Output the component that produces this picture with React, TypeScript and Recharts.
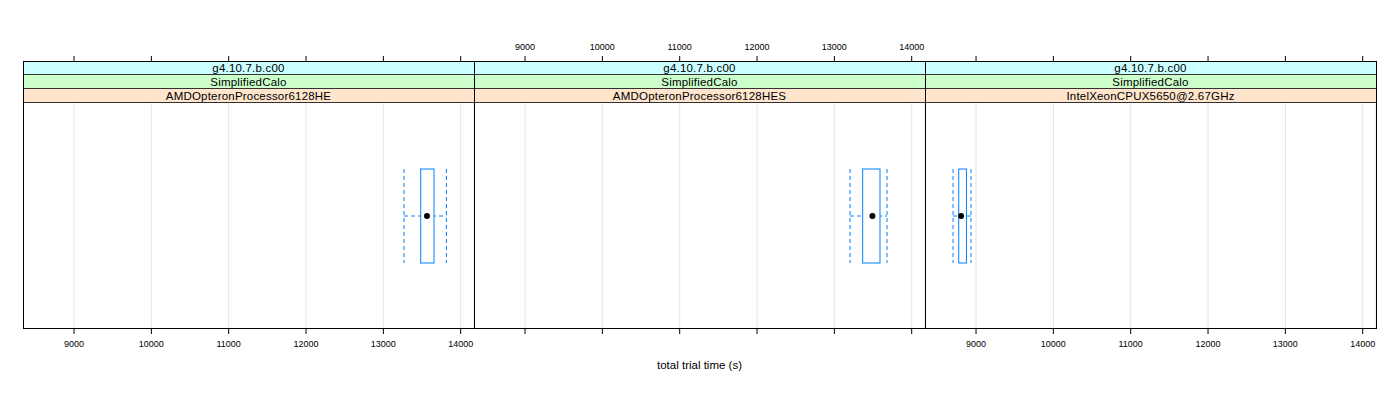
import React from "react";
import {
  Bar,
  CartesianGrid,
  ComposedChart,
  ReferenceDot,
  XAxis,
  YAxis,
} from "recharts";

// one panel per CPU, same geant4 version / test in every strip
const cpuNames = [
  "AMDOpteronProcessor6128HE",
  "AMDOpteronProcessor6128HES",
  "IntelXeonCPUX5650@2.67GHz",
];
const versionLabel = "g4.10.7.b.c00";
const testLabel = "SimplifiedCalo";

// five-number summaries of total trial time (s)
const whiskerLow = [13267, 13202, 8703];
const lowerQuartile = [13483, 13366, 8776];
const medianTime = [13564, 13492, 8806];
const upperQuartile = [13655, 13590, 8876];
const whiskerHigh = [13815, 13681, 8935];

const timeTicks = [9000, 10000, 11000, 12000, 13000, 14000];
const timeDomain = [8340, 14172];

const FONT = '"Liberation Sans", Arial, Helvetica, sans-serif';
const BOX_BLUE = "#0080ff";

const PANEL_LEFT = 23;
const PANEL_W = 451;
const PLOT_TOP = 61;
const PLOT_H = 268;
const STRIP_H = 14;
const AXIS_H = 30;
const STRIP_COLORS = ["#ccffff", "#ccffcc", "#ffe5cc"];

function WhiskerShape(props: any) {
  const { x, y, width, height } = props;
  const mid = y + height / 2;
  return (
    <g stroke={BOX_BLUE} strokeWidth={1} strokeDasharray="4 3" fill="none">
      <line x1={x} x2={x + width} y1={mid} y2={mid} />
      <line x1={x} x2={x} y1={y} y2={y + height} />
      <line x1={x + width} x2={x + width} y1={y} y2={y + height} />
    </g>
  );
}

function BoxShape(props: any) {
  const { x, y, width, height } = props;
  return (
    <rect
      x={x}
      y={y}
      width={width}
      height={height}
      fill="#ffffff"
      stroke={BOX_BLUE}
      strokeWidth={1}
    />
  );
}

function makeTick(show: boolean) {
  return (props: any) => {
    if (!show) return <g />;
    const { x, y, payload, textAnchor, verticalAnchor } = props;
    const dy = verticalAnchor === "end" ? "-0.1em" : "0.71em";
    return (
      <text
        x={x}
        y={y}
        dy={dy}
        textAnchor={textAnchor}
        fontSize={9}
        fontFamily={FONT}
        fill="#000"
      >
        {payload.value}
      </text>
    );
  };
}

function Panel({ index }: { index: number }) {
  const row = {
    name: cpuNames[index],
    whisker: [whiskerLow[index], whiskerHigh[index]],
    box: [lowerQuartile[index], upperQuartile[index]],
  };
  // lattice alternates the labelled side: bottom, top, bottom
  const labelBottom = index !== 1;
  return (
    <div
      style={{
        position: "absolute",
        left: PANEL_LEFT + index * PANEL_W,
        top: PLOT_TOP - AXIS_H,
      }}
    >
      <ComposedChart
        layout="vertical"
        width={PANEL_W}
        height={PLOT_H + 2 * AXIS_H}
        data={[row]}
        margin={{ top: 0, right: 0, bottom: 0, left: 0 }}
        style={{ overflow: "visible" }}
      >
        <CartesianGrid
          xAxisId="bottom"
          yAxisId="w"
          horizontal={false}
          stroke="#e6e6e6"
        />
        <XAxis
          xAxisId="bottom"
          type="number"
          orientation="bottom"
          domain={timeDomain}
          ticks={timeTicks}
          allowDataOverflow
          interval={0}
          height={AXIS_H}
          axisLine={false}
          tickSize={5}
          tickMargin={7}
          tickLine={{ stroke: "#000" }}
          tick={makeTick(labelBottom)}
        />
        <XAxis
          xAxisId="top"
          type="number"
          orientation="top"
          domain={timeDomain}
          ticks={timeTicks}
          allowDataOverflow
          interval={0}
          height={AXIS_H}
          axisLine={false}
          tickSize={5}
          tickMargin={5}
          tickLine={{ stroke: "#000" }}
          tick={makeTick(!labelBottom)}
        />
        <YAxis
          yAxisId="w"
          type="category"
          dataKey="name"
          hide
          padding={{ top: 3 * STRIP_H, bottom: 0 }}
        />
        <YAxis
          yAxisId="b"
          type="category"
          dataKey="name"
          hide
          padding={{ top: 3 * STRIP_H, bottom: 0 }}
        />
        <Bar
          xAxisId="bottom"
          yAxisId="w"
          dataKey="whisker"
          barSize={94}
          shape={WhiskerShape}
          isAnimationActive={false}
        />
        <Bar
          xAxisId="bottom"
          yAxisId="b"
          dataKey="box"
          barSize={94}
          shape={BoxShape}
          isAnimationActive={false}
        />
        <ReferenceDot
          xAxisId="bottom"
          yAxisId="b"
          x={medianTime[index]}
          y={cpuNames[index]}
          r={3}
          fill="#000"
          stroke="none"
        />
      </ComposedChart>
    </div>
  );
}

function Strips({ index }: { index: number }) {
  const labels = [versionLabel, testLabel, cpuNames[index]];
  return (
    <>
      {labels.map((label, k) => (
        <div
          key={k}
          style={{
            position: "absolute",
            left: PANEL_LEFT + index * PANEL_W,
            top: PLOT_TOP + k * STRIP_H,
            width: PANEL_W,
            height: STRIP_H,
            boxSizing: "border-box",
            background: STRIP_COLORS[k],
            borderBottom: "1px solid #333",
            fontFamily: FONT,
            fontSize: 11.5,
            letterSpacing: 0.2,
            lineHeight: `${STRIP_H}px`,
            textAlign: "center",
            color: "#000",
          }}
        >
          {label}
        </div>
      ))}
    </>
  );
}

export default function App() {
  return (
    <div
      style={{
        position: "absolute",
        left: 0,
        top: 0,
        width: 1400,
        height: 400,
        background: "#fff",
        overflow: "hidden",
      }}
    >
      {cpuNames.map((_, i) => (
        <Panel key={i} index={i} />
      ))}
      {cpuNames.map((_, i) => (
        <Strips key={i} index={i} />
      ))}
      {/* outer frame and panel dividers */}
      <div
        style={{
          position: "absolute",
          left: PANEL_LEFT,
          top: PLOT_TOP,
          width: PANEL_W * 3 + 1,
          height: PLOT_H,
          boxSizing: "border-box",
          border: "1px solid #000",
        }}
      />
      {[1, 2].map((i) => (
        <div
          key={i}
          style={{
            position: "absolute",
            left: PANEL_LEFT + i * PANEL_W,
            top: PLOT_TOP,
            width: 1,
            height: PLOT_H,
            background: "#000",
          }}
        />
      ))}
      <div
        style={{
          position: "absolute",
          left: PANEL_LEFT,
          top: 359,
          width: PANEL_W * 3,
          textAlign: "center",
          fontFamily: FONT,
          fontSize: 11.5,
          color: "#000",
        }}
      >
        total trial time (s)
      </div>
    </div>
  );
}
